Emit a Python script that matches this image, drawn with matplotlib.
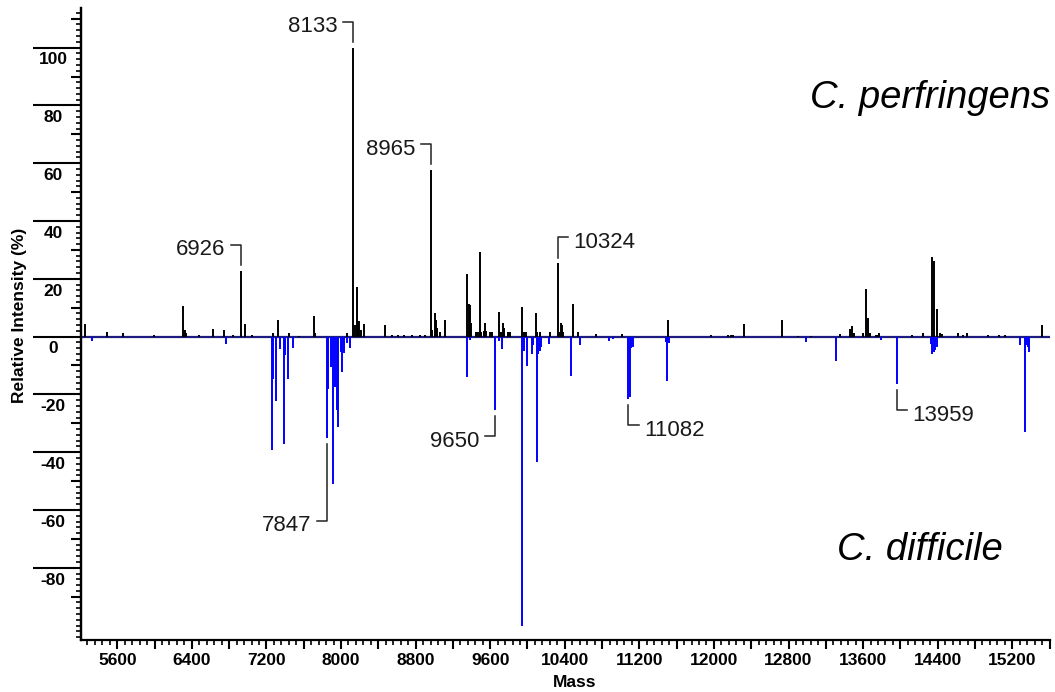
import numpy as np
import matplotlib
matplotlib.use("Agg")
import matplotlib.pyplot as plt
from matplotlib.ticker import MultipleLocator, FixedLocator, FuncFormatter

plt.rcParams['font.family'] = ['Liberation Sans', 'DejaVu Sans']

# C. perfringens peak list: mass and relative intensity (%)
perf_mass = [5250, 5493, 5664, 5993, 6301, 6321, 6342, 6473, 6623, 6744, 6837, 6926, 6966, 7041,
             7266, 7323, 7438, 7551, 7712, 7725, 8066, 8133, 8149, 8170, 8184, 8195, 8213, 8245,
             8470, 8545, 8610, 8680, 8760, 8850, 8900, 8965, 8981, 9003, 9017, 9028, 9064, 9117,
             9352, 9370, 9381, 9399, 9452, 9470, 9489, 9506, 9535, 9549, 9560, 9603, 9614, 9696,
             9714, 9739, 9750, 9793, 9811, 9946, 9960, 9989, 10089, 10103, 10139, 10246, 10324,
             10339, 10356, 10367, 10385, 10493, 10546, 10740, 11018, 11504, 11973, 12150, 12180,
             12200, 12319, 12734, 12900, 13040, 13349, 13463, 13485, 13500, 13598, 13635, 13649,
             13678, 13740, 13757, 13775, 14129, 14243, 14340, 14355, 14397, 14422, 14443, 14621,
             14669, 14716, 14937, 15062, 15122, 15514]
perf_int = [4.3, 1.7, 1.1, 0.5, 10.5, 2.2, 1.3, 0.5, 2.6, 2.2, 0.5, 22.8, 4.3, 0.5,
            1.1, 5.7, 1.3, 0.3, 7.2, 1.2, 1.3, 100, 4.0, 17.0, 5.4, 5.4, 2.2, 4.3,
            4.0, 0.5, 0.4, 0.4, 0.5, 0.5, 0.6, 57.6, 2.2, 8.1, 5.7, 3.0, 1.7, 5.7,
            21.6, 11.2, 11.0, 4.8, 1.5, 1.5, 29.3, 1.5, 2.0, 4.6, 2.0, 1.5, 1.5, 8.6,
            1.5, 4.8, 3.0, 1.5, 1.5, 10.3, 1.7, 1.5, 8.0, 1.5, 1.5, 1.5, 25.3,
            1.5, 4.6, 4.0, 1.5, 11.2, 1.7, 1.0, 1.0, 5.7, 0.5, 0.4, 0.4,
            0.4, 4.2, 5.7, 0.3, 0.3, 1.0, 2.6, 3.7, 1.2, 1.2, 16.4, 6.3,
            1.4, 0.6, 0.6, 1.2, 0.6, 1.2, 27.6, 26.1, 9.4, 1.2, 0.8, 1.2,
            0.6, 1.4, 0.6, 0.4, 0.6, 3.9]

# C. difficile peak list, drawn mirrored below zero
diff_mass = [5329, 6765, 7259, 7273, 7298, 7344, 7384, 7401, 7430, 7490, 7847, 7861, 7889, 7918,
             7935, 7954, 7972, 7995, 8015, 8032, 8068, 8097, 9346, 9382, 9650, 9696, 9725, 9942,
             9964, 10000, 10043, 10060, 10097, 10114, 10132, 10150, 10229, 10464, 10561, 10875,
             10918, 11082, 11096, 11114, 11128, 11483, 11501, 11515, 12991, 13313, 13796, 13959,
             14324, 14342, 14356, 14370, 14392, 15286, 15332, 15350, 15367, 15378]
diff_int = [1.5, 2.6, 39.3, 14.8, 22.2, 4.4, 37.3, 6.4, 14.8, 4.1, 35.2, 18.2, 10.4, 51.0,
            17.4, 25.4, 31.2, 5.2, 12.2, 5.8, 2.2, 4.1, 14.1, 1.2, 25.4, 1.4, 4.3, 100,
            4.9, 10.2, 6.0, 3.0, 43.3, 6.0, 5.0, 3.6, 2.4, 13.6, 2.9, 1.4,
            1.0, 21.7, 20.8, 4.0, 3.5, 1.7, 15.3, 2.3, 1.7, 8.4, 1.2, 16.4,
            2.4, 6.0, 5.5, 4.6, 3.7, 2.9, 32.9, 2.9, 3.5, 5.5]

perf_labels = [6926, 8133, 8965, 10324]
diff_labels = [7847, 9650, 11082, 13959]
y_major = [-80, -60, -40, -20, 0, 20, 40, 60, 80, 100]

# which way each label sits and how far its elbow is from the peak
label_side = {6926: 'left', 8133: 'left', 8965: 'left', 10324: 'right',
              7847: 'left', 9650: 'left', 11082: 'right', 13959: 'right'}
label_drop = {7847: 28.5}

fig = plt.figure(figsize=(10.55, 6.92), dpi=100)
ax = fig.add_axes([0.0768, 0.0751, 0.9185, 0.9133])
ax.set_xlim(5211, 15605)
ax.set_ylim(-105, 113.7)

ax.axhline(0, color='#1c1c80', lw=1.6, zorder=1)
ax.vlines(perf_mass, 0, perf_int, color='black', lw=1.4, zorder=2)
ax.vlines(diff_mass, 0, -np.array(diff_int), color='#0000ff', lw=1.4, zorder=2)

for s in ['top', 'right']:
    ax.spines[s].set_visible(False)
for s in ['left', 'bottom']:
    ax.spines[s].set_linewidth(1.6)

tick_font = dict(fontsize=12.5, fontweight='bold')

# x ticks: long every 400, labels every 800, short every 80
ax.xaxis.set_major_locator(MultipleLocator(400))
ax.xaxis.set_minor_locator(MultipleLocator(80))
ax.xaxis.set_major_formatter(FuncFormatter(lambda v, p: f"{v:.0f}" if v % 800 == 0 else ""))
ax.tick_params(axis='x', which='major', length=6.3, width=1.5, pad=3)
ax.tick_params(axis='x', which='minor', length=3.8, width=1.2)
for lab in ax.get_xticklabels():
    lab.set_fontsize(12.5)
    lab.set_fontweight('bold')

# y ticks: long majors with labels set underneath, minors every 2
ax.yaxis.set_major_locator(FixedLocator(y_major))
ax.yaxis.set_minor_locator(MultipleLocator(2))
ax.tick_params(axis='y', which='major', length=34.5, width=1.5, labelleft=False)
ax.tick_params(axis='y', which='minor', length=3.6, width=1.2)
sec = ax.secondary_yaxis('left')
sec.yaxis.set_major_locator(FixedLocator(list(range(-90, 111, 20))))
sec.tick_params(length=7.2, width=1.5, labelleft=False)
sec.spines['left'].set_linewidth(1.6)
for v in y_major:
    ax.annotate(f"{v}", xy=(0, v), xycoords=('axes fraction', 'data'),
                xytext=(-20.2, -8.8), textcoords='offset points',
                ha='center', va='center', **tick_font)

ax.set_xlabel("Mass", **tick_font)
ax.xaxis.set_label_coords(0.509, -0.055)
ax.set_ylabel("Relative Intensity (%)", **tick_font)
ax.yaxis.set_label_coords(-0.063, 0.514)
ax.yaxis.label.set_verticalalignment('center')


def mark(mass, height, side, drop=9.0):
    sgn = np.sign(height)
    y0 = height + sgn * 2
    y1 = height + sgn * drop
    x1 = mass - 110 if side == 'left' else mass + 110
    ax.plot([mass, mass, x1], [y0, y1, y1], color='#222222', lw=1.1, zorder=3)
    tx = x1 - 55 if side == 'left' else x1 + 55
    ax.text(tx, y1 - 1.8, f"{mass}", ha='right' if side == 'left' else 'left',
            va='center', fontsize=16, color='#1a1a1a')


for m in perf_labels:
    mark(m, perf_int[perf_mass.index(m)], label_side[m], label_drop.get(m, 9.0))
for m in diff_labels:
    mark(m, -diff_int[diff_mass.index(m)], label_side[m], label_drop.get(m, 9.0))

ax.text(1.0, 0.842, "C. perfringens", transform=ax.transAxes, ha='right', va='baseline',
        fontsize=27.5, style='italic')
ax.text(0.866, 0.1266, "C. difficile", transform=ax.transAxes, ha='center', va='baseline',
        fontsize=27.5, style='italic')

fig.savefig("out.png", dpi=100)
